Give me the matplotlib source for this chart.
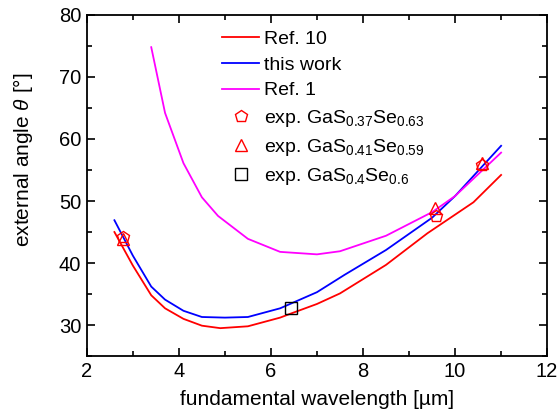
import matplotlib
matplotlib.use('Agg')
import matplotlib.pyplot as plt
from matplotlib.ticker import MultipleLocator

# -------------------------------
# Data
# -------------------------------
ref10_x = [2.6, 3.0, 3.4, 3.7, 4.1, 4.5, 4.9, 5.5, 5.75, 6.2, 6.45, 7.0, 7.5, 8.5, 9.4, 10.4, 11.0]
ref10_y = [45.0, 39.6, 34.8, 32.7, 31.0, 29.9, 29.5, 29.8, 30.3, 31.2, 31.9, 33.4, 35.1, 39.7, 44.8, 49.8, 54.2]

this_x = [2.6, 3.0, 3.4, 3.7, 4.1, 4.5, 5.0, 5.5, 6.2, 7.0, 7.6, 8.5, 9.5, 10.0, 11.0]
this_y = [46.9, 41.2, 36.2, 34.1, 32.3, 31.3, 31.2, 31.3, 32.7, 35.3, 38.1, 42.1, 47.3, 50.8, 58.9]

ref1_x = [3.4, 3.7, 4.1, 4.5, 4.85, 5.5, 6.2, 7.0, 7.5, 8.5, 9.5, 10.0, 11.0]
ref1_y = [74.8, 64.2, 56.1, 50.6, 47.6, 43.9, 41.8, 41.4, 41.9, 44.4, 48.2, 50.8, 57.8]

pent_x = [2.78, 9.58, 10.58]
pent_y = [44.2, 47.6, 55.8]
tri_x = [2.78, 9.56, 10.58]
tri_y = [43.9, 48.9, 56.2]
sq_x = [6.44]
sq_y = [32.7]

# -------------------------------
# Style
# -------------------------------
plt.rcParams['font.family'] = ['Liberation Sans', 'DejaVu Sans']
plt.rcParams['mathtext.fontset'] = 'custom'
plt.rcParams['mathtext.rm'] = 'Liberation Sans'
plt.rcParams['mathtext.it'] = 'Liberation Sans:italic'
plt.rcParams['mathtext.default'] = 'regular'

fig = plt.figure(figsize=(5.6, 4.15), dpi=100)
ax = fig.add_axes([0.155, 0.142, 0.822, 0.822])

ax.plot(ref10_x, ref10_y, color='red', lw=1.3, label='Ref. 10')
ax.plot(this_x, this_y, color='blue', lw=1.3, label='this work')
ax.plot(ref1_x, ref1_y, color='magenta', lw=1.3, label='Ref. 1')
ax.plot(pent_x, pent_y, 'p', mfc='none', mec='red', ms=9, mew=1.0,
        label=r'exp. GaS$_{0.37}$Se$_{0.63}$')
ax.plot(tri_x, tri_y, '^', mfc='none', mec='red', ms=9, mew=1.0,
        label=r'exp. GaS$_{0.41}$Se$_{0.59}$')
ax.plot(sq_x, sq_y, 's', mfc='none', mec='black', ms=8, mew=1.0,
        label=r'exp. GaS$_{0.4}$Se$_{0.6}$')

ax.set_xlim(2, 12)
ax.set_ylim(25, 80)
ax.xaxis.set_major_locator(MultipleLocator(2))
ax.xaxis.set_minor_locator(MultipleLocator(1))
ax.yaxis.set_major_locator(MultipleLocator(10))
ax.yaxis.set_minor_locator(MultipleLocator(5))
ax.tick_params(which='both', direction='in', top=True, right=True, width=1.2)
ax.tick_params(which='major', length=6, labelsize=14.5, pad=4)
ax.tick_params(which='minor', length=3.5)
for s in ax.spines.values():
    s.set_linewidth(1.3)

ax.set_xlabel('fundamental wavelength [µm]', fontsize=15, labelpad=7)
ax.set_ylabel(r'external angle $\mathit{\theta}$ [°]', fontsize=15)
ax.yaxis.set_label_coords(-0.113, 0.575)

ax.legend(loc='upper left', bbox_to_anchor=(0.265, 0.995), frameon=False,
          fontsize=14, handlelength=1.9, handletextpad=0.25, labelspacing=0.42,
          borderaxespad=0.3)

fig.savefig('out.png', dpi=100)
